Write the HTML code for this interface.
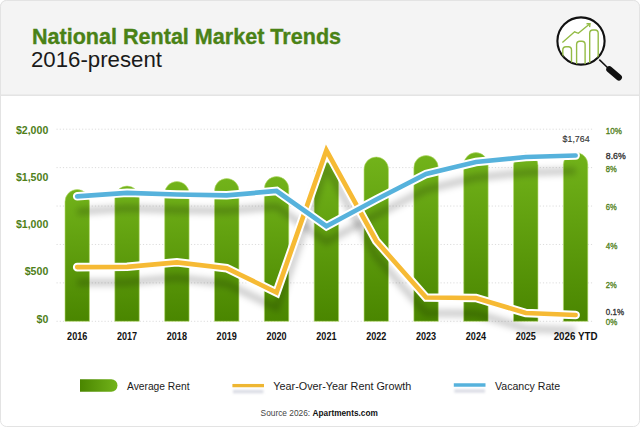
<!DOCTYPE html>
<html><head><meta charset="utf-8"><title>National Rental Market Trends</title>
<style>
html,body{margin:0;padding:0;width:640px;height:427px;overflow:hidden;background:#fff;}
svg{display:block;}
text{font-family:"Liberation Sans",sans-serif;}
</style></head><body>
<svg width="640" height="427" viewBox="0 0 640 427">
<defs>
<linearGradient id="gb" x1="0" y1="0" x2="0" y2="1">
<stop offset="0" stop-color="#72b31a"/><stop offset="1" stop-color="#4a8600"/>
</linearGradient>
<linearGradient id="gl" x1="0" y1="0" x2="1" y2="0">
<stop offset="0" stop-color="#4a8600"/><stop offset="1" stop-color="#72b31a"/>
</linearGradient>
<filter id="sh2" filterUnits="userSpaceOnUse" x="0" y="0" width="640" height="427"><feGaussianBlur stdDeviation="1"/></filter>
<filter id="sh" filterUnits="userSpaceOnUse" x="0" y="0" width="640" height="427"><feGaussianBlur stdDeviation="3.2"/></filter>
<clipPath id="cc"><circle cx="581" cy="41" r="23.6"/></clipPath>
</defs>
<rect x="0.5" y="0.5" width="639" height="426" rx="6" fill="#fff" stroke="#e3e3e3"/>
<path d="M0.5,95 V6.5 A6,6 0 0 1 6.5,0.5 H633.5 A6,6 0 0 1 639.5,6.5 V95 Z" fill="#f4f4f4" stroke="#e3e3e3"/>
<rect x="1" y="95" width="638" height="1" fill="#e4e4e4"/>

<text x="31.9" y="44" font-size="21.4" font-weight="bold" fill="#4a8216" stroke="#4a8216" stroke-width="0.35" textLength="309.2" lengthAdjust="spacingAndGlyphs">National Rental Market Trends</text>
<text x="31" y="67.4" font-size="22" fill="#1a1a1a" textLength="131" lengthAdjust="spacingAndGlyphs">2016-present</text>
<circle cx="581" cy="41" r="23.6" fill="#fff" stroke="#111" stroke-width="2.1"/>
<g clip-path="url(#cc)" fill="none" stroke="#93bb45" stroke-width="1.4">
<rect x="562.8" y="46.8" width="8.7" height="30" rx="3.2"/>
<rect x="576.6" y="41.2" width="8.5" height="30" rx="3.2"/>
<rect x="589.7" y="30" width="8.5" height="40" rx="3.2"/>
<path d="M562.4,42.6 L574.6,31.8 L578.3,33.3 L589.6,24"/>
<path d="M586.5,23.8 L590,23.8 L589.6,27.2"/>
</g>
<line x1="599.3" y1="59.6" x2="609" y2="69" stroke="#111" stroke-width="1.5"/>
<line x1="609.4" y1="69.4" x2="618.8" y2="77.4" stroke="#111" stroke-width="6.3" stroke-linecap="round"/>

<line x1="56.5" y1="129.20" x2="594" y2="129.20" stroke="#dcdcdc" stroke-width="1" stroke-dasharray="1.2,2"/>
<line x1="56.5" y1="167.62" x2="594" y2="167.62" stroke="#dcdcdc" stroke-width="1" stroke-dasharray="1.2,2"/>
<line x1="56.5" y1="206.04" x2="594" y2="206.04" stroke="#dcdcdc" stroke-width="1" stroke-dasharray="1.2,2"/>
<line x1="56.5" y1="244.46" x2="594" y2="244.46" stroke="#dcdcdc" stroke-width="1" stroke-dasharray="1.2,2"/>
<line x1="56.5" y1="282.88" x2="594" y2="282.88" stroke="#dcdcdc" stroke-width="1" stroke-dasharray="1.2,2"/>
<line x1="56.5" y1="321.30" x2="594" y2="321.30" stroke="#dcdcdc" stroke-width="1" stroke-dasharray="1.2,2"/>
<path d="M65.00,321.3 V201.70 A12.2,12.2 0 0 1 89.40,201.70 V321.3 Z" fill="url(#gb)" stroke="#b5db6a" stroke-width="0.6"/>
<path d="M114.84,321.3 V198.20 A12.2,12.2 0 0 1 139.24,198.20 V321.3 Z" fill="url(#gb)" stroke="#b5db6a" stroke-width="0.6"/>
<path d="M164.68,321.3 V193.70 A12.2,12.2 0 0 1 189.08,193.70 V321.3 Z" fill="url(#gb)" stroke="#b5db6a" stroke-width="0.6"/>
<path d="M214.52,321.3 V190.70 A12.2,12.2 0 0 1 238.92,190.70 V321.3 Z" fill="url(#gb)" stroke="#b5db6a" stroke-width="0.6"/>
<path d="M264.36,321.3 V188.70 A12.2,12.2 0 0 1 288.76,188.70 V321.3 Z" fill="url(#gb)" stroke="#b5db6a" stroke-width="0.6"/>
<path d="M314.20,321.3 V174.70 A12.2,12.2 0 0 1 338.60,174.70 V321.3 Z" fill="url(#gb)" stroke="#b5db6a" stroke-width="0.6"/>
<path d="M364.04,321.3 V169.20 A12.2,12.2 0 0 1 388.44,169.20 V321.3 Z" fill="url(#gb)" stroke="#b5db6a" stroke-width="0.6"/>
<path d="M413.88,321.3 V167.70 A12.2,12.2 0 0 1 438.28,167.70 V321.3 Z" fill="url(#gb)" stroke="#b5db6a" stroke-width="0.6"/>
<path d="M463.72,321.3 V164.80 A12.2,12.2 0 0 1 488.12,164.80 V321.3 Z" fill="url(#gb)" stroke="#b5db6a" stroke-width="0.6"/>
<path d="M513.56,321.3 V165.40 A12.2,12.2 0 0 1 537.96,165.40 V321.3 Z" fill="url(#gb)" stroke="#b5db6a" stroke-width="0.6"/>
<path d="M563.40,321.3 V164.60 A12.2,12.2 0 0 1 587.80,164.60 V321.3 Z" fill="url(#gb)" stroke="#b5db6a" stroke-width="0.6"/>
<polyline points="77.20,282.60 127.04,282.30 176.88,277.80 226.72,283.70 276.56,308.00 326.40,165.80 376.24,256.50 426.08,313.00 475.92,313.50 525.76,328.50 575.60,330.50" fill="none" stroke="#000" stroke-opacity="0.2" stroke-width="7" stroke-linejoin="miter" filter="url(#sh)"/>
<polyline points="77.20,211.80 127.04,208.30 176.88,210.00 226.72,210.80 276.56,206.50 326.40,241.70 376.24,215.00 426.08,189.50 475.92,177.50 525.76,172.50 575.60,171.00" fill="none" stroke="#000" stroke-opacity="0.2" stroke-width="7" stroke-linejoin="miter" filter="url(#sh)"/>
<polyline points="77.20,267.10 127.04,266.80 176.88,262.30 226.72,268.20 276.56,292.50 326.40,150.30 376.24,241.00 426.08,297.50 475.92,298.00 525.76,313.00 575.60,315.00" fill="none" stroke="#fff" stroke-width="8.6" stroke-linecap="round" stroke-linejoin="miter"/>
<polyline points="77.20,267.10 127.04,266.80 176.88,262.30 226.72,268.20 276.56,292.50 326.40,150.30 376.24,241.00 426.08,297.50 475.92,298.00 525.76,313.00 575.60,315.00" fill="none" stroke="#f6ba34" stroke-width="4.7" stroke-linecap="round" stroke-linejoin="miter"/>
<polyline points="77.20,196.30 127.04,192.80 176.88,194.50 226.72,195.30 276.56,191.00 326.40,226.20 376.24,199.50 426.08,174.00 475.92,162.00 525.76,157.00 575.60,155.50" fill="none" stroke="#fff" stroke-width="8.6" stroke-linecap="round" stroke-linejoin="miter"/>
<polyline points="77.20,196.30 127.04,192.80 176.88,194.50 226.72,195.30 276.56,191.00 326.40,226.20 376.24,199.50 426.08,174.00 475.92,162.00 525.76,157.00 575.60,155.50" fill="none" stroke="#56b2dc" stroke-width="4.7" stroke-linecap="round" stroke-linejoin="miter"/>
<text x="48.3" y="133.5" font-size="10.6" font-weight="bold" fill="#4f8019" text-anchor="end">$2,000</text>
<text x="48.3" y="180.9" font-size="10.6" font-weight="bold" fill="#4f8019" text-anchor="end">$1,500</text>
<text x="48.3" y="228.3" font-size="10.6" font-weight="bold" fill="#4f8019" text-anchor="end">$1,000</text>
<text x="48.3" y="275.2" font-size="10.6" font-weight="bold" fill="#4f8019" text-anchor="end">$500</text>
<text x="48.3" y="323" font-size="10.6" font-weight="bold" fill="#4f8019" text-anchor="end">$0</text>
<text x="605.8" y="133.9" font-size="9.9" fill="#4f8019" stroke="#4f8019" stroke-width="0.35" textLength="16.1" lengthAdjust="spacingAndGlyphs">10%</text>
<text x="605.8" y="158.6" font-size="9.9" fill="#333" stroke="#333" stroke-width="0.35" textLength="20" lengthAdjust="spacingAndGlyphs">8.6%</text>
<text x="605.8" y="171.8" font-size="9.9" fill="#4f8019" stroke="#4f8019" stroke-width="0.35" textLength="11" lengthAdjust="spacingAndGlyphs">8%</text>
<text x="605.8" y="210.0" font-size="9.9" fill="#4f8019" stroke="#4f8019" stroke-width="0.35" textLength="11" lengthAdjust="spacingAndGlyphs">6%</text>
<text x="605.8" y="248.9" font-size="9.9" fill="#4f8019" stroke="#4f8019" stroke-width="0.35" textLength="11.7" lengthAdjust="spacingAndGlyphs">4%</text>
<text x="605.8" y="287.6" font-size="9.9" fill="#4f8019" stroke="#4f8019" stroke-width="0.35" textLength="11" lengthAdjust="spacingAndGlyphs">2%</text>
<text x="605.8" y="315.0" font-size="9.9" fill="#333" stroke="#333" stroke-width="0.35" textLength="18.2" lengthAdjust="spacingAndGlyphs">0.1%</text>
<text x="605.8" y="324.6" font-size="9.9" fill="#4f8019" stroke="#4f8019" stroke-width="0.35" textLength="11.5" lengthAdjust="spacingAndGlyphs">0%</text>
<text x="589.6" y="142.2" font-size="9.8" fill="#333" stroke="#333" stroke-width="0.15" text-anchor="end" textLength="27" lengthAdjust="spacingAndGlyphs">$1,764</text>
<text x="67.10" y="339.9" font-size="10.3" font-weight="bold" fill="#111" textLength="20.2" lengthAdjust="spacingAndGlyphs">2016</text>
<text x="116.94" y="339.9" font-size="10.3" font-weight="bold" fill="#111" textLength="20.2" lengthAdjust="spacingAndGlyphs">2017</text>
<text x="166.78" y="339.9" font-size="10.3" font-weight="bold" fill="#111" textLength="20.2" lengthAdjust="spacingAndGlyphs">2018</text>
<text x="216.62" y="339.9" font-size="10.3" font-weight="bold" fill="#111" textLength="20.2" lengthAdjust="spacingAndGlyphs">2019</text>
<text x="266.46" y="339.9" font-size="10.3" font-weight="bold" fill="#111" textLength="20.2" lengthAdjust="spacingAndGlyphs">2020</text>
<text x="316.30" y="339.9" font-size="10.3" font-weight="bold" fill="#111" textLength="20.2" lengthAdjust="spacingAndGlyphs">2021</text>
<text x="366.14" y="339.9" font-size="10.3" font-weight="bold" fill="#111" textLength="20.2" lengthAdjust="spacingAndGlyphs">2022</text>
<text x="415.98" y="339.9" font-size="10.3" font-weight="bold" fill="#111" textLength="20.2" lengthAdjust="spacingAndGlyphs">2023</text>
<text x="465.82" y="339.9" font-size="10.3" font-weight="bold" fill="#111" textLength="20.2" lengthAdjust="spacingAndGlyphs">2024</text>
<text x="515.66" y="339.9" font-size="10.3" font-weight="bold" fill="#111" textLength="20.2" lengthAdjust="spacingAndGlyphs">2025</text>
<text x="553.70" y="339.9" font-size="10.3" font-weight="bold" fill="#111" textLength="43.8" lengthAdjust="spacingAndGlyphs">2026 YTD</text>
<path d="M80,379.3 H111.3 A6.2,6.2 0 0 1 111.3,391.7 H80 Z" fill="url(#gl)"/>
<text x="127" y="389.5" font-size="10.6" fill="#1a1a1a" textLength="62.5" lengthAdjust="spacingAndGlyphs">Average Rent</text>
<line x1="233" y1="391.6" x2="263.5" y2="391.6" stroke="#9aa0b8" stroke-opacity="0.35" stroke-width="3.5" filter="url(#sh2)"/>
<line x1="232.4" y1="385.6" x2="264" y2="385.6" stroke="#eeb632" stroke-width="3.3"/>
<text x="273.3" y="389.5" font-size="10.6" fill="#1a1a1a" textLength="138" lengthAdjust="spacingAndGlyphs">Year-Over-Year Rent Growth</text>
<line x1="454.3" y1="391" x2="485" y2="391" stroke="#9aa0b8" stroke-opacity="0.35" stroke-width="3.5" filter="url(#sh2)"/>
<line x1="453.8" y1="385" x2="485.5" y2="385" stroke="#56b2dc" stroke-width="3.6"/>
<text x="495" y="389.5" font-size="10.6" fill="#1a1a1a">Vacancy Rate</text>
<text x="260.6" y="416.4" font-size="8.8" fill="#444" textLength="49.6" lengthAdjust="spacingAndGlyphs">Source 2026:</text>
<text x="312.6" y="416.4" font-size="8.8" font-weight="bold" fill="#111" textLength="65.2" lengthAdjust="spacingAndGlyphs">Apartments.com</text>
</svg></body></html>
